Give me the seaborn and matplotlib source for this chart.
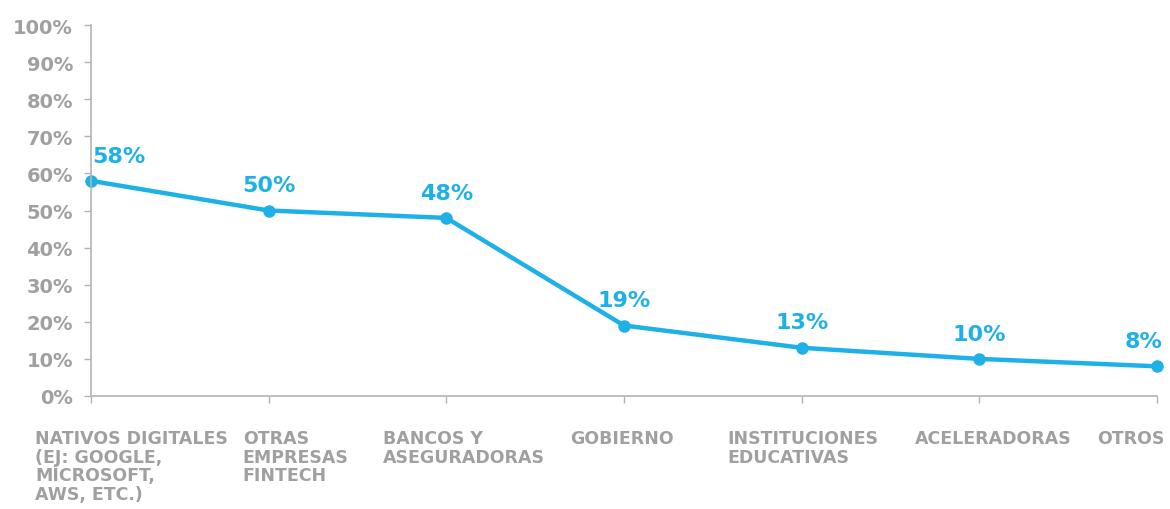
import matplotlib
matplotlib.use("Agg")
import matplotlib.pyplot as plt
import matplotlib.transforms as mtransforms
import seaborn as sns
import pandas as pd

categories = [
    "NATIVOS DIGITALES\n(EJ: GOOGLE,\nMICROSOFT,\nAWS, ETC.)",
    "OTRAS\nEMPRESAS\nFINTECH",
    "BANCOS Y\nASEGURADORAS",
    "GOBIERNO",
    "INSTITUCIONES\nEDUCATIVAS",
    "ACELERADORAS",
    "OTROS",
]
values = [58, 50, 48, 19, 13, 10, 8]
value_labels = ["58%", "50%", "48%", "19%", "13%", "10%", "8%"]
yticks = [0, 10, 20, 30, 40, 50, 60, 70, 80, 90, 100]

sns.set_style("white")
plt.rcParams["font.family"] = ["DejaVu Sans"]

BLUE = "#1EB1E8"
GRAY = "#A0A0A0"
SPINE = "#B4B4B4"

df = pd.DataFrame({"x": range(len(values)), "y": values})

fig = plt.figure(figsize=(11.7, 5.1), dpi=100)
ax = fig.add_axes([91/1170, 1-397/510, (1157-91)/1170, (397-26)/510])

sns.lineplot(data=df, x="x", y="y", ax=ax, color=BLUE, linewidth=3.2,
             marker="o", markersize=9, markeredgewidth=0, clip_on=False)
for l in ax.lines:
    l.set_clip_on(False)

ax.set_xlim(0, len(values)-1)
ax.set_ylim(0, 100)
ax.set_yticks(yticks)
ax.set_yticklabels([f"{t}%" for t in yticks], fontsize=14, fontweight="bold", color=GRAY)
ax.set_xticks(range(len(values)))
ax.set_xticklabels([""]*len(values))
ax.set_xlabel("")
ax.set_ylabel("")

for s in ["top", "right"]:
    ax.spines[s].set_visible(False)
for s in ["left", "bottom"]:
    ax.spines[s].set_color(SPINE)
    ax.spines[s].set_linewidth(1.2)
ax.tick_params(axis="both", which="both", length=5, width=1, color=SPINE,
               direction="out", left=True, bottom=True)
ax.tick_params(axis="y", pad=8)

# category labels (left-aligned blocks, offset in pixels from tick)
x_offsets_px = [-56, -26, -63, -54, -74, -64, -60]
trans_base = mtransforms.blended_transform_factory(ax.transData, ax.transAxes)
for i, (lab, off) in enumerate(zip(categories, x_offsets_px)):
    tr = trans_base + mtransforms.ScaledTranslation(off/100, -33/100, fig.dpi_scale_trans)
    ax.text(i, 0, lab, transform=tr, ha="left", va="top", fontsize=12.5,
            fontweight="bold", color=GRAY, linespacing=1.05)

# value labels
for i, (v, lab) in enumerate(zip(values, value_labels)):
    if i == 0:
        ha, dx = "left", 1
    elif i == len(values)-1:
        ha, dx = "right", 4
    else:
        ha, dx = "center", 0
    ax.annotate(lab, (i, v), xytext=(dx, 11), textcoords="offset points",
                ha=ha, va="bottom", fontsize=16, fontweight="bold", color=BLUE,
                annotation_clip=False)

fig.savefig("out.png", dpi=100, facecolor="white")
